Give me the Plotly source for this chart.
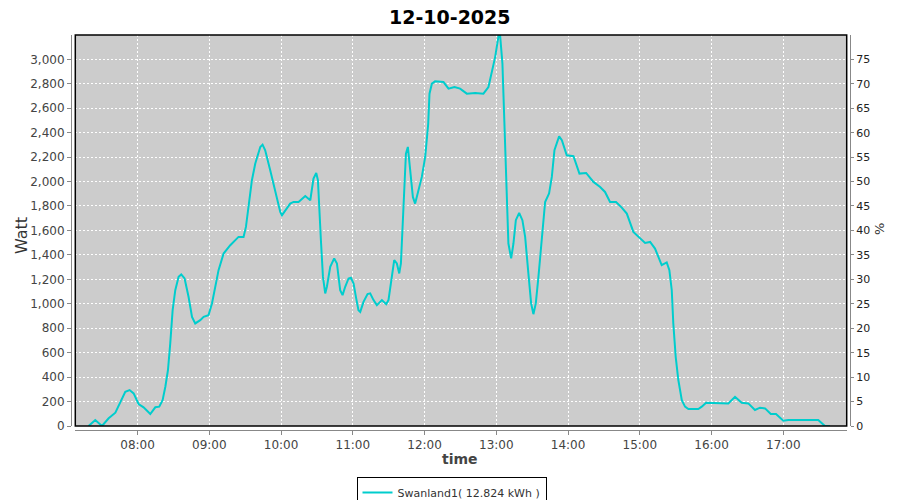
import plotly.graph_objects as go

day = "2025-10-12"
times = [
    "07:19:00", "07:24:36", "07:30:12", "07:35:48", "07:41:24", "07:45:30", "07:49:42", "07:53:18", "07:56:42",
    "08:00:48", "08:05:00", "08:10:36", "08:14:48", "08:18:06", "08:20:54", "08:23:12", "08:25:24", "08:27:18",
    "08:29:18", "08:31:30", "08:34:18", "08:36:30", "08:39:18", "08:42:36", "08:45:30", "08:48:12", "08:52:24",
    "08:55:12", "08:59:18", "09:02:12", "09:04:54", "09:07:42", "09:11:54", "09:17:30", "09:24:24", "09:28:36",
    "09:30:36", "09:32:48", "09:35:36", "09:38:24", "09:42:36", "09:44:30", "09:46:42", "09:50:54", "09:55:06",
    "09:59:18", "10:00:42", "10:03:30", "10:07:36", "10:10:24", "10:14:36", "10:20:12", "10:24:24", "10:27:06",
    "10:29:24", "10:30:48", "10:32:06", "10:33:18", "10:35:00", "10:36:54", "10:38:18", "10:41:06", "10:44:24",
    "10:46:42", "10:49:24", "10:51:24", "10:53:36", "10:56:24", "10:58:24", "11:00:36", "11:02:48", "11:04:42",
    "11:06:12", "11:08:54", "11:12:18", "11:14:30", "11:17:18", "11:20:06", "11:24:18", "11:27:54", "11:29:48",
    "11:32:42", "11:34:36", "11:36:48", "11:38:48", "11:40:12", "11:41:30", "11:42:54", "11:44:24", "11:46:00",
    "11:48:00", "11:50:12", "11:52:06", "11:54:54", "11:57:42", "12:00:30", "12:03:00", "12:04:06", "12:06:06",
    "12:08:48", "12:15:48", "12:20:00", "12:25:00", "12:29:42", "12:35:18", "12:42:18", "12:49:12", "12:53:24",
    "12:56:12", "12:59:00", "13:01:48", "13:03:12", "13:05:06", "13:06:48", "13:08:12", "13:10:06", "13:12:24",
    "13:14:18", "13:16:18", "13:19:06", "13:21:48", "13:24:06", "13:26:48", "13:29:06", "13:31:00", "13:33:00",
    "13:35:12", "13:38:00", "13:40:48", "13:44:06", "13:46:24", "13:48:36", "13:52:30", "13:54:48", "13:58:54",
    "14:04:30", "14:09:30", "14:15:06", "14:21:12", "14:26:48", "14:30:54", "14:35:06", "14:40:06", "14:44:54",
    "14:49:06", "14:54:36", "15:04:24", "15:08:36", "15:12:42", "15:18:18", "15:22:30", "15:24:42", "15:26:42",
    "15:28:00", "15:30:00", "15:32:12", "15:35:06", "15:37:48", "15:40:36", "15:48:54", "15:51:48", "15:55:24",
    "16:09:48", "16:14:00", "16:19:36", "16:25:12", "16:30:42", "16:36:18", "16:40:30", "16:44:42", "16:49:30",
    "16:53:54", "17:00:00", "17:04:12", "17:29:12", "17:34:48", "17:39:00",
]
watts = [
    0, 49, 0, 63, 109, 188, 280, 294, 267,
    180, 153, 98, 153, 158, 212, 321, 458, 676,
    948, 1111, 1220, 1240, 1207, 1057, 893, 839, 866,
    893, 907, 1003, 1139, 1275, 1411, 1479, 1547, 1547,
    1629, 1792, 2011, 2147, 2283, 2302, 2256, 2092, 1929,
    1751, 1724, 1765, 1820, 1833, 1833, 1882, 1847, 2024,
    2070, 2011, 1711, 1520, 1220, 1085, 1139, 1302, 1371,
    1330, 1111, 1071, 1139, 1207, 1213, 1166, 1044, 948,
    934, 1016, 1079, 1085, 1030, 989, 1030, 997, 1030,
    1220, 1357, 1330, 1248, 1330, 1602, 1956, 2229, 2283,
    2092, 1874, 1820, 1929, 2038, 2201, 2470, 2719, 2801,
    2820, 2814, 2760, 2773, 2760, 2719, 2724, 2719, 2773,
    2883, 3018, 3190, 3190, 2965, 2474, 1929, 1493, 1371,
    1493, 1684, 1743, 1684, 1547, 1248, 1003, 915, 1003,
    1220, 1547, 1833, 1902, 2038, 2256, 2370, 2338, 2215,
    2207, 2065, 2070, 1997, 1956, 1915, 1833, 1833, 1787,
    1738, 1588, 1498, 1506, 1452, 1316, 1338, 1275, 1111,
    839, 566, 376, 212, 158, 139, 139, 158, 190,
    190, 185, 239, 190, 185, 131, 150, 144, 98,
    98, 44, 49, 49, 0, 0,
]
series_name = "Swanland1( 12.824 kWh )"
title_text = "12-10-2025"
y_max = 3199
x_start = "07:07:54"
x_end = "17:53:00"
hour_ticks = ["08:00", "09:00", "10:00", "11:00", "12:00", "13:00", "14:00", "15:00", "16:00", "17:00"]

xs = [f"{day} {t}" for t in times]
fig = go.Figure()
fig.add_trace(go.Scatter(x=xs, y=watts, mode="lines", name=series_name,
                         line=dict(color="#00cdcd", width=2)))
# invisible trace for the secondary (%) axis
fig.add_trace(go.Scatter(x=[xs[0]], y=[0], yaxis="y2", mode="lines", showlegend=False,
                         hoverinfo="skip", line=dict(color="rgba(0,0,0,0)")))

OFF = 8  # page body margin offset (div starts at page 8,8)
W, H = 900 - OFF, 500 - OFF
# page coords of paper: left 71, right 850, top 35, bottom 430
ml, mr, mt, mb = 71 - OFF, 900 - 850, 35 - OFF, 500 - 430
pw = W - ml - mr
ph = H - mt - mb
xd0 = (75.3 - 71) / pw
xd1 = (846.7 - 71) / pw
yd0 = (430 - 426) / ph
bot = 430


def px(xpage):
    return (xpage - 71) / pw


def py(ypage):
    return (bot - ypage) / ph


tickfont_l = dict(family="DejaVu Sans", size=12, color="#444444")
tickfont_r = dict(family="DejaVu Sans", size=11, color="#222222")

fig.update_layout(
    width=W, height=H,
    margin=dict(l=ml, r=mr, t=mt, b=mb, autoexpand=False),
    paper_bgcolor="white",
    plot_bgcolor="#cccccc",
    showlegend=True,
    legend=dict(orientation="h", x=px(451.5), xanchor="center", y=py(477), yanchor="top",
                bordercolor="black", borderwidth=1, bgcolor="white",
                font=dict(family="DejaVu Sans", size=11, color="#333333"),
                itemwidth=30, tracegroupgap=0),
    xaxis=dict(
        domain=[xd0, xd1], anchor="free", position=0,
        type="date",
        range=[f"{day} {x_start}", f"{day} {x_end}"],
        tickvals=[f"{day} {h}" for h in hour_ticks], ticktext=hour_ticks,
        showgrid=True, gridcolor="white", griddash="2px,2px", gridwidth=1,
        showline=True, linecolor="#888888", linewidth=1,
        ticks="outside", ticklen=4, tickcolor="#888888",
        tickfont=tickfont_l, zeroline=False,
    ),
    yaxis=dict(
        domain=[yd0, 1], anchor="free", position=0,
        range=[0, y_max], dtick=200, tickformat=",d",
        showgrid=True, gridcolor="white", griddash="2px,2px", gridwidth=1,
        showline=True, linecolor="#888888", linewidth=1,
        ticks="outside", ticklen=4, tickcolor="#888888",
        tickfont=tickfont_l, zeroline=False,
    ),
    yaxis2=dict(
        overlaying="y", side="right", anchor="free", position=1,
        range=[0, y_max / 40], dtick=5,
        showgrid=False, showline=True, linecolor="#888888", linewidth=1,
        ticks="outside", ticklen=3, tickcolor="#888888",
        tickfont=tickfont_r, zeroline=False,
    ),
    shapes=[dict(type="rect", xref="x domain", yref="y domain", x0=0, x1=1, y0=0, y1=1,
                 line=dict(color="black", width=1.5), fillcolor="rgba(0,0,0,0)", layer="above")],
    annotations=[
        dict(text=f"<b>{title_text}</b>", xref="paper", yref="paper", x=px(450), y=py(17),
             showarrow=False, font=dict(family="DejaVu Sans", size=19, color="black"),
             xanchor="center", yanchor="middle"),
        dict(text="Watt", xref="paper", yref="paper", x=px(21), y=py(236),
             showarrow=False, textangle=-90, font=dict(family="DejaVu Sans", size=16, color="#333333"),
             xanchor="center", yanchor="middle"),
        dict(text="%", xref="paper", yref="paper", x=px(880), y=py(229),
             showarrow=False, textangle=-90, font=dict(family="DejaVu Sans", size=13, color="#333333"),
             xanchor="center", yanchor="middle"),
        dict(text="<b>time</b>", xref="paper", yref="paper", x=px(460), y=py(459),
             showarrow=False, font=dict(family="DejaVu Sans", size=14, color="#444444"),
             xanchor="center", yanchor="middle"),
    ],
)

fig.write_html("out.html")
